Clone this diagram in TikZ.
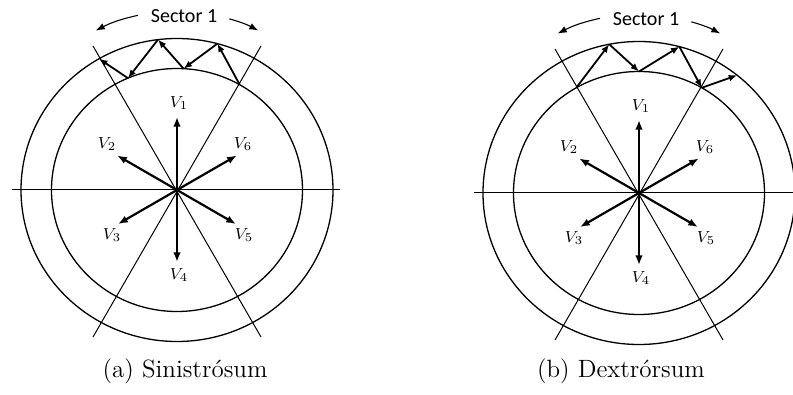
\documentclass[tikz,border=0pt]{standalone}
\usepackage{fontspec}
\newfontfamily\calib{Carlito}
\usetikzlibrary{arrows.meta}
\tikzset{
  circ/.style={line width=0.65pt},
  secline/.style={line width=0.5pt},
  vec/.style={line width=1.1pt,-{Latex[length=4.8pt,width=3.8pt]}},
  zig/.style={line width=0.9pt,-{Latex[length=4.2pt,width=3.4pt]}},
  secarrow/.style={line width=0.55pt,-{Latex[length=4.5pt,width=3.4pt]}},
  vlabel/.style={font=\fontsize{8}{9}\selectfont, inner sep=0pt},
  seclabel/.style={font=\calib\fontsize{10}{12}\selectfont, inner sep=0pt},
  caplabel/.style={font=\fontsize{12.5}{14}\selectfont, inner sep=0pt, anchor=base},
}
\newcommand\basediagram{%
  \coordinate (O) at (0,0);
  \draw[circ] (O) ellipse [x radius=78pt, y radius=75.75pt];
  \draw[circ] (O) ellipse [x radius=62.75pt, y radius=60.75pt];
  \coordinate (HL) at (-165,0);
  \coordinate (HR) at (163,0);
  \draw[secline] (HL) -- (HR);
  \coordinate (S1a) at (-84,144);
  \coordinate (S1b) at (84,-147);
  \coordinate (S2a) at (84,144);
  \coordinate (S2b) at (-84,-147);
  \draw[secline] (S1a) -- (S1b);
  \draw[secline] (S2a) -- (S2b);
  \foreach \n/\a/\r in {1/90/73, 2/150/69, 3/210/68, 4/270/72, 5/330/68, 6/30/69}{
    \coordinate (T\n) at (\a:\r);
    \draw[vec] (O) -- (T\n);
  }
  \node[vlabel] (L1) at (2,87) {$V_1$};
  \node[vlabel] (L2) at (-70,46) {$V_2$};
  \node[vlabel] (L3) at (-65,-45) {$V_3$};
  \node[vlabel] (L4) at (2,-85) {$V_4$};
  \node[vlabel] (L5) at (67,-45) {$V_5$};
  \node[vlabel] (L6) at (66,46) {$V_6$};
  \node[seclabel] (SL) at (7,174) {Sector 1};
  \coordinate (A1s) at (102.6:179);
  \coordinate (A1e) at (117:179);
  \coordinate (A2s) at (73:179);
  \coordinate (A2e) at (63:179);
  \draw[secarrow] (A1s) to[bend right=7.2] (A1e);
  \draw[secarrow] (A2s) to[bend left=6] (A2e);
  \foreach \a in {51,75,97,101,120}{\coordinate (Q\a) at (\a:156 and 151.5);}
  \foreach \a in {60,87,90,113,120}{\coordinate (I\a) at (\a:125.5 and 121.5);}
}
\begin{document}
\begin{tikzpicture}[x=0.5pt,y=0.5pt]
\useasboundingbox (0,-395) rectangle (793,0);
\begin{scope}[shift={(177,-190)}, name prefix=a-]
  \basediagram
  \draw[zig] (I60) -- (Q75);
  \draw[zig] (Q75) -- (I87);
  \draw[zig] (I87) -- (Q97);
  \draw[zig] (Q97) -- (I113);
  \draw[zig] (I113) -- (Q120);
\end{scope}
\begin{scope}[shift={(639,-193)}, name prefix=b-]
  \basediagram
  \draw[zig] (I120) -- (Q101);
  \draw[zig] (Q101) -- (I90);
  \draw[zig] (I90) -- (Q75);
  \draw[zig] (Q75) -- (I60);
  \draw[zig] (I60) -- (Q51);
\end{scope}
\node[caplabel] (capa) at (185,-378) {(a) Sinistrósum};
\node[caplabel] (capb) at (621,-378) {(b) Dextrórsum};
\end{tikzpicture}
\end{document}
